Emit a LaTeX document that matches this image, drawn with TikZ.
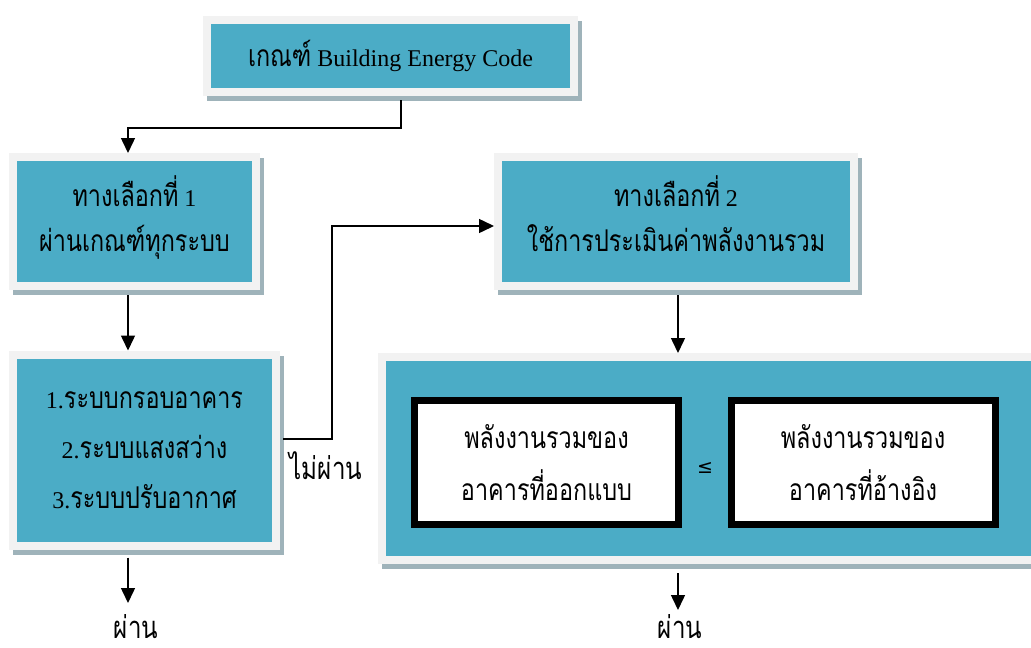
\documentclass[tikz,border=0pt]{standalone}
\usepackage{fontspec}
\setmainfont{Liberation Serif}
\newfontfamily\thaifont[Script=Thai,FakeStretch=0.78]{Loma}
\newfontfamily\symfont{DejaVu Sans}
\newcommand\thx[1]{{\thaifont\fontsize{30}{36}\selectfont #1}}
\usetikzlibrary{arrows.meta,shadows}
\definecolor{tealbox}{HTML}{4BACC6}
\definecolor{framegray}{HTML}{F2F2F2}
\definecolor{shadowc}{HTML}{9FB3BA}
\tikzset{
  tbox/.style={fill=tealbox, draw=framegray, line width=8pt, outer sep=4pt,
    inner sep=0pt, align=center, text=black,
    drop shadow={shadow xshift=4pt, shadow yshift=-5pt, fill=shadowc,
      draw=shadowc, line width=8pt, opacity=1}},
  wbox/.style={fill=white, draw=black, line width=7pt, inner sep=0pt,
    outer sep=0pt, align=center, minimum width=264pt, minimum height=124pt,
    font=\thaifont\fontsize{30}{52}\selectfont},
  arr/.style={-{Triangle[length=15pt,width=14pt]}, line width=1.5pt},
  lbl/.style={inner sep=0pt, font=\thaifont\fontsize{31}{36}\selectfont},
}
\begin{document}
\begin{tikzpicture}[x=1pt,y=-1pt]
\useasboundingbox (0,0) rectangle (1031,648);
\clip (0,0) rectangle (1031,648);
% boxes
\node[tbox, minimum width=367pt, minimum height=72pt,
  font=\fontsize{24}{30}\selectfont] (top) at (390.5,56)
  {\thx{เกณฑ์} Building Energy Code};
\node[tbox, minimum width=243pt, minimum height=129pt, text depth=16pt,
  font=\fontsize{24}{45}\selectfont] (opt1) at (134.5,221.5)
  {\thx{ทางเลือกที่} 1\\\thx{ผ่านเกณฑ์ทุกระบบ}};
\node[tbox, minimum width=356pt, minimum height=129pt, text depth=16pt,
  font=\fontsize{24}{45}\selectfont] (opt2) at (676,221.5)
  {\thx{ทางเลือกที่} 2\\\thx{ใช้การประเมินค่าพลังงานรวม}};
\node[tbox, minimum width=263pt, minimum height=191pt,
  font=\fontsize{24}{50}\selectfont] (sys) at (144.5,450)
  {1.\thx{ระบบกรอบอาคาร}\\2.\thx{ระบบแสงสว่าง}\\3.\thx{ระบบปรับอากาศ}};
\node[tbox, minimum width=663pt, minimum height=203pt] (big) at (713.5,458.5) {};
\node[wbox] (design) at (546.5,462.5) {พลังงานรวมของ\\อาคารที่ออกแบบ};
\node[wbox] (ref) at (863,462.5) {พลังงานรวมของ\\อาคารที่อ้างอิง};
\node[inner sep=0pt, font=\symfont\fontsize{19}{22}\selectfont] (le) at (705,468) {≤};
% labels
\node[lbl] (fail) at (326,466) {ไม่ผ่าน};
\node[lbl] (pass1) at (136,627) {ผ่าน};
\node[lbl] (pass2) at (680,627) {ผ่าน};
% coordinates
\coordinate (c1) at (401,128);
\coordinate (c2) at (128,128);
\coordinate (k1) at (332,439);
\coordinate (k2) at (332,226);
\coordinate (c3) at (678,300);
\coordinate (e1) at (128,603);
\coordinate (e2) at (678,610);
% connectors
\draw[arr, shorten <=4pt] (top.south -| c1) -- (c1) -- (c2) -- (opt1.north -| c2);
\draw[arr, shorten <=5pt] (opt1.south -| c2) -- (sys.north -| c2);
\draw[arr, shorten <=8pt] (sys.south -| c2) -- (e1);
\draw[arr, shorten <=3pt] (sys.east |- k1) -- (k1) -- (k2) -- (opt2.west |- k2);
\draw[arr, shorten <=5pt] (opt2.south -| c3) -- (big.north -| c3);
\draw[arr, shorten <=9pt] (big.south -| c3) -- (e2);
\end{tikzpicture}
\end{document}
